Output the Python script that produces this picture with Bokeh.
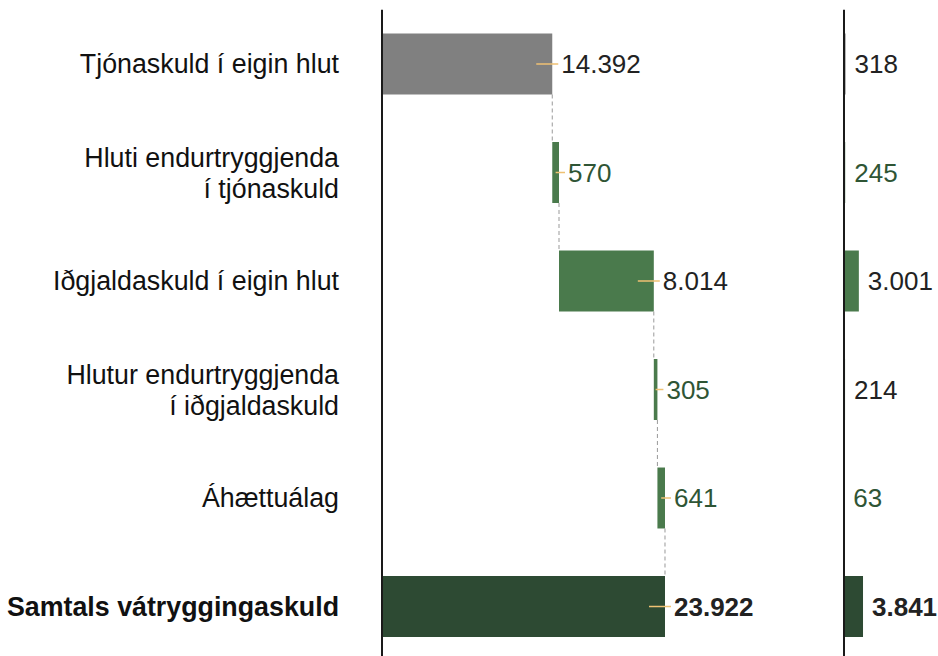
import numpy as np
from bokeh.plotting import figure
from bokeh.models import Range1d, Span, ColumnDataSource
from bokeh.layouts import row
from bokeh.embed import file_html
from bokeh.resources import INLINE
from bokeh.core.properties import value

# ---- data ----
categories = [
    "Tjónaskuld í eigin hlut",
    "Hluti endurtryggjenda\ní tjónaskuld",
    "Iðgjaldaskuld í eigin hlut",
    "Hlutur endurtryggjenda\ní iðgjaldaskuld",
    "Áhættuálag",
    "Samtals vátryggingaskuld",
]
left_values = [14392, 570, 8014, 305, 641, 23922]
right_values = [318, 245, 3001, 214, 63, 3841]

# ---- styles ----
GRAY = "#808080"
GREEN = "#4A7A4C"
DARK = "#2D4A33"
bar_colors = [GRAY, GREEN, GREEN, GREEN, GREEN, DARK]
left_label_colors = ["#222222", "#2F5535", "#222222", "#2F5535", "#2F5535", "#222222"]
right_label_colors = ["#222222", "#2F5535", "#222222", "#222222", "#2F5535", "#222222"]
FONT = value("Liberation Sans")
FS = "26px"
FS_CAT = "26.8px"
BAR_H = 0.562


def fmt(v):
    return f"{v:,}".replace(",", ".")


n = len(categories)
ys = np.arange(n)

# waterfall geometry (last one is the total, from 0)
lv = np.array(left_values, dtype=float)
ends = np.cumsum(lv[:-1]).tolist() + [lv[-1]]
starts = [0.0] + ends[:-2] + [0.0]
starts = np.array(starts)
ends = np.array(ends)

y_range_args = dict(start=5.4608, end=-0.5023)


def base_fig(width, xr):
    p = figure(width=width, height=656, x_range=xr, y_range=Range1d(**y_range_args),
               output_backend="svg", toolbar_location=None,
               x_axis_location=None, y_axis_location=None,
               min_border_left=0, min_border_right=0, min_border_top=9, min_border_bottom=0)
    p.outline_line_color = None
    p.grid.visible = False
    p.background_fill_color = "white"
    p.border_fill_color = "white"
    return p


# ---- left panel ----
p1 = base_fig(830, Range1d(-32249, 37912))

src1 = ColumnDataSource(dict(y=ys, left=starts, right=ends, color=bar_colors))
p1.hbar(y="y", left="left", right="right", height=BAR_H, color="color", line_color=None, source=src1)

# dashed connectors
cx = ends[:-1]
p1.segment(x0=cx, x1=cx, y0=ys[:-1] + BAR_H / 2, y1=ys[1:] - BAR_H / 2,
           line_color="#999999", line_dash="4 3", line_width=1)

# orange leader ticks
half = np.minimum(lv / 2, 1352)
p1.segment(x0=ends - half, x1=ends + 507, y0=ys, y1=ys, line_color="#EFC173", line_width=1.5)

# value labels
lbl = [fmt(v) for v in left_values]
p1.text(x=ends[:-1], y=ys[:-1], text=lbl[:-1], text_color=left_label_colors[:-1],
        text_font=FONT, text_font_size=FS, text_baseline="middle", text_align="left", x_offset=9)
p1.text(x=ends[-1:], y=ys[-1:], text=lbl[-1:], text_color=left_label_colors[-1:],
        text_font=FONT, text_font_size=FS, text_font_style="bold",
        text_baseline="middle", text_align="left", x_offset=9)

# category labels
single = [i for i in range(n - 1) if "\n" not in categories[i]]
multi = [i for i in range(n - 1) if "\n" in categories[i]]
p1.text(x=[0] * len(single), y=[ys[i] for i in single], text=[categories[i] for i in single],
        text_color="#111111", text_font=FONT, text_font_size=FS_CAT, text_baseline="middle",
        text_align="right", x_offset=-43)
p1.text(x=[0] * len(multi), y=[ys[i] for i in multi], text=[categories[i] for i in multi],
        text_color="#111111", text_font=FONT, text_font_size=FS_CAT, text_baseline="middle",
        text_align="right", x_offset=-43, y_offset=1, text_line_height=1.02)
p1.text(x=[0], y=ys[-1:], text=categories[-1:], text_color="#111111",
        text_font=FONT, text_font_size=FS_CAT, text_font_style="bold",
        text_baseline="middle", text_align="right", x_offset=-43)

p1.add_layout(Span(location=0, dimension="height", line_color="#1a1a1a", line_width=2))

# ---- right panel ----
p2 = base_fig(108, Range1d(-2727, 19091))
rv = np.array(right_values, dtype=float)
src2 = ColumnDataSource(dict(y=ys, right=rv, color=bar_colors))
p2.hbar(y="y", left=0, right="right", height=BAR_H, color="color", line_color=None, source=src2)

rl = [fmt(v) for v in right_values]
p2.text(x=rv[:-1], y=ys[:-1], text=rl[:-1], text_color=right_label_colors[:-1],
        text_font=FONT, text_font_size=FS, text_baseline="middle", text_align="left", x_offset=9)
p2.text(x=rv[-1:], y=ys[-1:], text=rl[-1:], text_color=right_label_colors[-1:],
        text_font=FONT, text_font_size=FS, text_font_style="bold",
        text_baseline="middle", text_align="left", x_offset=9)
p2.add_layout(Span(location=0, dimension="height", line_color="#1a1a1a", line_width=2))

layout = row(p1, p2)
open("out.html", "w").write(file_html(layout, INLINE))
